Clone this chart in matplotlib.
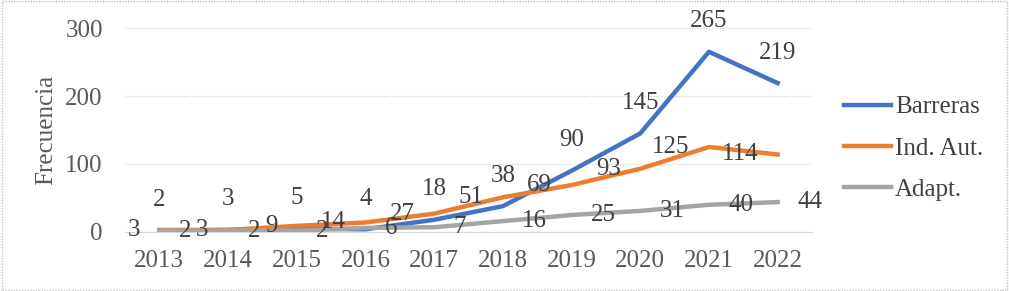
import matplotlib.pyplot as plt
from matplotlib.patches import Rectangle

years = ['2013', '2014', '2015', '2016', '2017', '2018', '2019', '2020', '2021', '2022']
barreras = [2, 3, 5, 4, 18, 38, 90, 145, 265, 219]
ind_aut = [3, 3, 9, 14, 27, 51, 69, 93, 125, 114]
adapt = [2, 2, 2, 6, 7, 16, 25, 31, 40, 44]
yticks = [0, 100, 200, 300]

plt.rcParams['font.family'] = ['Liberation Serif', 'DejaVu Serif']
fs = 18
txt = '#404040'
tick_col = '#595959'

fig = plt.figure(figsize=(10.09, 2.91), dpi=100)
ax = fig.add_axes([125 / 1009, 59 / 291, 687 / 1009, 204 / 291])
x = list(range(len(years)))

ax.plot(x, barreras, color='#4472C4', lw=3.2, label='Barreras', zorder=3, solid_joinstyle='round')
ax.plot(x, ind_aut, color='#ED7D31', lw=3.2, label='Ind. Aut.', zorder=4, solid_joinstyle='round')
ax.plot(x, adapt, color='#A5A5A5', lw=3.2, label='Adapt.', zorder=5, solid_joinstyle='round')

# data labels: blue above, orange left, gray right
for i in x:
    ax.annotate(str(barreras[i]), (i, barreras[i]), xytext=(0, 22), textcoords='offset points',
                ha='center', va='center', fontsize=fs, color=txt, zorder=6)
    ax.annotate(str(ind_aut[i]), (i, ind_aut[i]), xytext=(-14, 0), textcoords='offset points',
                ha='right', va='center', fontsize=fs, color=txt, zorder=6)
    ax.annotate(str(adapt[i]), (i, adapt[i]), xytext=(14, 0), textcoords='offset points',
                ha='left', va='center', fontsize=fs, color=txt, zorder=6)

ax.set_xlim(-0.5, len(years) - 0.5)
ax.set_ylim(0, 300)
ax.set_yticks(yticks)
ax.set_xticks(x)
ax.set_xticklabels(years)
ax.tick_params(axis='both', length=0, labelsize=fs, colors=tick_col)
ax.tick_params(axis='y', pad=16)
ax.tick_params(axis='x', pad=13)
ax.grid(axis='y', color='#D9D9D9', lw=1, ls=(0, (1, 1)), zorder=0)
for s in ['top', 'right', 'left']:
    ax.spines[s].set_visible(False)
ax.spines['bottom'].set_color('#D9D9D9')
ax.set_ylabel('Frecuencia', fontsize=fs, color=tick_col, labelpad=6)

fig.legend(loc='center left', bbox_to_anchor=(821 / 1009, 0.49), frameon=False,
           fontsize=fs, labelcolor=txt, handlelength=1.9, handletextpad=0.15,
           labelspacing=0.75)

fig.patches.append(Rectangle((0.002, 0.004), 0.996, 0.992, transform=fig.transFigure,
                             fill=False, ec='#BFBFBF', lw=1, ls=(0, (1, 1))))

fig.savefig('out.png', dpi=100)
